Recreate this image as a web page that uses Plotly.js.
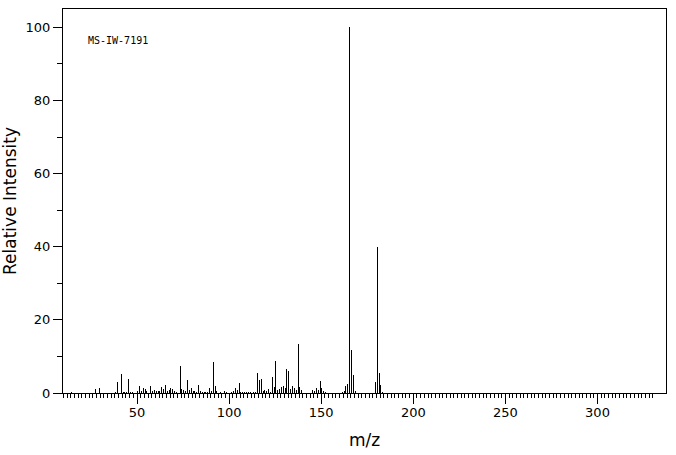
<!DOCTYPE html>
<html>
<head>
<meta charset="utf-8">
<script src="https://cdn.plot.ly/plotly-3.0.1.min.js"></script>
<style>html,body{margin:0;padding:0;background:#fff;}#chart{width:676px;height:455px;}</style>
</head>
<body>
<div id="chart"></div>
<script>
// m/z values and relative intensities
const mz = [14,27,29,38,39,41,42,43,44,45,46,47,50,51,52,53,54,55,57,58,59,60,61,62,63,64,65,66,67,68,69,70,71,
  73,74,75,76,77,78,79,80,81,82,83,84,85,86,87,88,89,90,91,92,93,95,97,98,101,102,103,104,105,106,107,108,109,110,111,113,114,
  115,116,117,118,119,120,121,122,123,124,125,126,127,128,129,130,131,132,133,134,135,136,137,138,139,
  145,146,147,148,149,150,151,152,161,162,163,164,165,166,167,168,179,180,181,182,183];
const intensity = [0.3,1.0,1.4,0.3,3.0,5.2,0.3,0.3,0.3,3.8,0.3,0.3,0.5,1.8,0.5,1.4,1.1,0.5,1.8,0.5,0.8,0.5,0.5,0.5,1.6,1.1,2.2,0.5,0.8,1.4,1.1,0.5,0.3,
  7.4,1.1,0.8,0.5,3.6,0.8,1.4,0.5,0.5,0.3,2.2,0.5,0.3,0.3,0.3,0.3,1.4,0.5,8.5,1.9,0.5,0.3,0.5,0.3,0.3,0.5,1.4,0.8,2.7,0.3,0.3,0.3,0.3,0.3,0.3,0.3,0.3,
  5.5,3.6,3.8,0.5,0.8,0.5,1.1,0.3,4.4,1.6,8.75,0.8,1.1,1.6,1.9,1.4,6.6,6.0,1.1,1.9,1.4,0.8,13.4,1.6,0.8,
  0.8,0.5,1.4,0.8,3.3,1.4,0.5,0.3,0.3,0.5,1.9,2.5,100,11.8,4.9,0.5,3.0,40,5.5,2.2,0.3];

const xLabelValues = [50,100,150,200,250,300];
const yTickValues = [0,20,40,60,80,100];
const spectrumId = 'MS-IW-7191';

// tick positions built from the axis spacing
const mediumTicks = [], mediumText = [], minorTicks = [];
for (let v = 10; v <= 330; v += 10) { mediumTicks.push(v); mediumText.push(xLabelValues.includes(v) ? String(v) : ''); }
for (let v = 10; v <= 330; v += 2) minorTicks.push(v);

const fontMain = 'DejaVu Sans, sans-serif';

const traces = [
  {type:'bar', x: mz, y: intensity, width: 0.55, offset: 0.125, marker:{color:'#000', line:{width:0}}, hoverinfo:'x+y', showlegend:false},
  {type:'scatter', x:[null], y:[null], xaxis:'x2', yaxis:'y', showlegend:false, hoverinfo:'skip'}
];

const xRange = [9.8, 337.2];
const layout = {
  width: 676, height: 455,
  margin: {l:63, r:10, t:9, b:62, pad:0},
  paper_bgcolor:'#fff', plot_bgcolor:'#fff',
  bargap: 0,
  font: {family: fontMain, color:'#000', size:13},
  xaxis: {
    range: xRange, showgrid:false, zeroline:false,
    showline:true, mirror:true, linecolor:'#000', linewidth:1,
    tickmode:'array', tickvals: mediumTicks, ticktext: mediumText,
    ticks:'outside', ticklen:7, tickwidth:1, tickcolor:'#000',
    tickfont:{family:fontMain, size:13},
    minor:{tickmode:'array', tickvals: minorTicks, ticks:'outside', ticklen:4, tickwidth:1, tickcolor:'#000', showgrid:false},
    title:{text:'m/z', font:{family:fontMain, size:17}, standoff:15}
  },
  xaxis2: {
    range: xRange, overlaying:'x', anchor:'y', side:'bottom', showgrid:false, zeroline:false,
    showline:false, tickmode:'array', tickvals: xLabelValues, showticklabels:false,
    ticks:'outside', ticklen:10, tickwidth:1, tickcolor:'#000'
  },
  yaxis: {
    range:[0,105], showgrid:false, zeroline:false,
    showline:true, mirror:true, linecolor:'#000', linewidth:1,
    tickmode:'array', tickvals: yTickValues,
    ticks:'outside', ticklen:9, tickwidth:1, tickcolor:'#000',
    tickfont:{family:fontMain, size:13},
    minor:{dtick:10, tick0:0, ticks:'outside', ticklen:5, tickwidth:1, tickcolor:'#000', showgrid:false},
    title:{text:'Relative Intensity', font:{family:fontMain, size:17}, standoff:10}
  },
  annotations: [{
    text: spectrumId, xref:'paper', yref:'paper', x:0.038, y:0.917,
    xanchor:'left', yanchor:'middle', showarrow:false,
    font:{family:'DejaVu Sans Mono, monospace', size:10, color:'#000'}
  }]
};

Plotly.newPlot('chart', traces, layout, {staticPlot:true, displayModeBar:false});
</script>
</body>
</html>
